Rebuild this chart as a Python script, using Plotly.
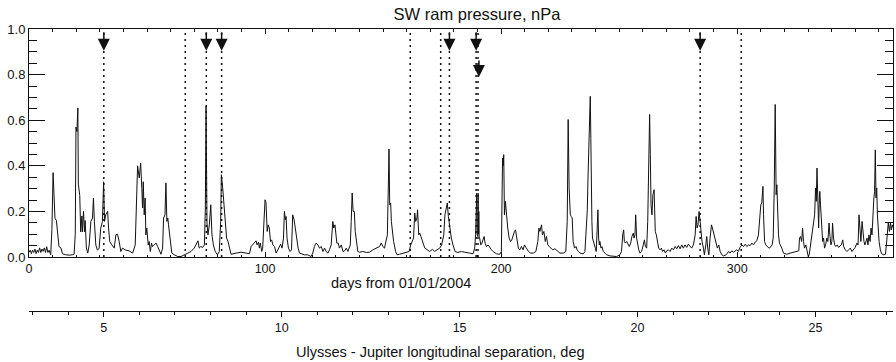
import plotly.graph_objects as go

# ---- data: SW ram pressure (nPa) vs days from 01/01/2004 ----
seg1_day = [0.0,0.5,1.0,1.5,2.0,2.5,3.0,3.5,4.0,4.5, 5.0,5.5,6.0,6.5,7.0,7.5,8.0,8.5,9.2,9.7,
            10.2,10.6,11.0,11.6,12.2,12.7,13.5,14.2,15.5,17.0, 18.5,19.1,19.6,19.9,20.3,20.7,20.9,21.2,21.5,21.9,
            22.4,22.6,23.1,23.5,23.8,24.3,24.9,25.5,26.2,26.9, 27.3,27.7,28.3,29.0,29.7,30.4,31.1,31.6,32.0,32.5,
            33.3,33.7,34.2,35.1,36.1,36.8,37.5,38.2,38.9,39.6, 41.0,42.4,43.9,45.0,45.5]
seg1_p = [0.02,0.03,0.015,0.03,0.02,0.035,0.015,0.03,0.02,0.04, 0.02,0.035,0.025,0.04,0.02,0.045,0.02,0.03,0.01,0.12,
          0.37,0.25,0.17,0.16,0.08,0.046,0.04,0.014,0.01,0.008, 0.01,0.012,0.1,0.57,0.55,0.654,0.32,0.3,0.27,0.11,
          0.18,0.11,0.2,0.11,0.16,0.04,0.017,0.053,0.156,0.171, 0.259,0.156,0.053,0.03,0.039,0.127,0.156,0.33,0.156,0.185,
          0.2,0.127,0.068,0.053,0.039,0.097,0.1,0.068,0.024,0.039, 0.03,0.027,0.017,0.053,0.2]

seg2_day = [46.0,46.7,47.3,47.8,48.1,48.4,48.8,49.2,49.5,49.9, 50.5,50.9,51.4,51.9,52.3,53.05,53.8,54.5,55.2,55.9,
            56.6,57.0,57.6,58.0,58.4,58.8,59.1,59.4,60.0,60.5, 61.5,63.0,64.4,65.8,67.2,68.6,70.0,71.0,71.6,72.1,
            72.8,73.6,74.3,74.7,75.0,75.2,75.4,75.8,76.4,77.0, 77.5,78.1,78.9,79.8,80.6,81.2,81.5,82.05,82.6,83.2,
            83.7,84.3,84.9,85.6,87.7,89.8,92.0,93.4]
seg2_p = [0.4,0.347,0.412,0.3,0.215,0.33,0.185,0.259,0.097,0.127, 0.053,0.068,0.024,0.061,0.046,0.053,0.061,0.046,0.024,0.012,
          0.039,0.171,0.185,0.325,0.156,0.171,0.141,0.112,0.053,0.017, 0.01,0.002,0.002,0.01,0.017,0.024,0.039,0.061,0.071,0.039,
          0.046,0.042,0.053,0.215,0.662,0.4,0.15,0.097,0.141,0.229, 0.097,0.053,0.024,0.0095,0.024,0.156,0.361,0.303,0.215,0.156,
          0.083,0.068,0.039,0.012,0.017,0.021,0.017,0.014]

seg3_day = [94.1,94.8,95.5,96.2,96.6,97.2,97.6,98.0,98.6,99.0, 99.4,100.0,100.4,100.9,101.3,101.8,102.3,102.8,103.3,104.0,
            104.7,105.4,106.1,106.6,107.2,107.8,108.2,108.6,108.9,109.3, 109.9,110.6,111.2,111.7,112.3,112.9,113.4,114.0,114.6,115.3,
            116.7,118.1,119.5,120.2,120.9,121.6,122.4,123.06,123.8,124.5, 125.2,125.9,126.6,127.3,128.0,128.7,129.1,129.6,130.0,130.4,
            131.0,131.5,132.3,133.0,133.7,134.4,135.1,136.1,136.5,136.9, 137.3,137.8,138.2,138.6]
seg3_p = [0.046,0.053,0.061,0.071,0.053,0.065,0.039,0.061,0.024,0.039, 0.127,0.251,0.237,0.112,0.141,0.127,0.068,0.075,0.053,0.046,
          0.017,0.0315,0.053,0.056,0.039,0.083,0.2,0.163,0.178,0.083, 0.039,0.024,0.0315,0.185,0.163,0.112,0.083,0.039,0.017,0.014,
          0.0095,0.0095,0.002,0.017,0.046,0.061,0.053,0.039,0.046,0.024, 0.039,0.024,0.017,0.0315,0.053,0.156,0.127,0.141,0.097,0.061,
          0.061,0.039,0.053,0.024,0.027,0.039,0.024,0.053,0.156,0.281, 0.2,0.2,0.112,0.068]

seg4_day = [139.3,140.0,141.4,142.9,144.3,145.7,147.1,148.5,149.2,149.9, 150.6,151.3,151.8,152.2,152.5,152.8,153.2,153.5,153.9,154.45,
            155.3,155.9,157.0,158.4,159.8,161.0,161.7,162.4,162.9,163.4, 163.8,164.35,164.6,165.1,165.5,166.05,166.6,167.2,167.7,168.6,
            169.7,170.9,171.85,172.8,174.0,174.8,175.7,176.2,176.8,177.2, 177.65,178.2,178.9,179.6,180.5,181.7,183.2,184.6,186.0]
seg4_p = [0.024,0.021,0.024,0.02,0.021,0.0315,0.039,0.046,0.061,0.046, 0.039,0.068,0.097,0.303,0.474,0.229,0.237,0.156,0.112,0.068,
          0.024,0.0095,0.012,0.017,0.02,0.024,0.053,0.075,0.083,0.193, 0.156,0.171,0.207,0.097,0.105,0.09,0.068,0.053,0.039,0.0315,
          0.024,0.034,0.024,0.0315,0.039,0.053,0.097,0.185,0.215,0.237, 0.178,0.127,0.083,0.053,0.024,0.02,0.024,0.021,0.02]

seg5_day = [186.7,188.1,188.8,189.2,189.35,189.5,189.65,189.8,189.95,190.1, 190.25,190.4,190.55,190.7,190.9,191.4,191.9,192.3,192.8,193.2,
            193.8,194.5,195.2,195.9,196.6,197.3,198.0,199.4,200.1,200.6, 200.85,201.1,201.4,201.8,202.25,202.8,203.4,203.95,204.5,205.1,
            205.65,206.1,206.5,206.9,207.3,207.9,208.6,209.3,209.9,210.5, 211.0,211.6,212.4,213.6,214.7,215.55,216.0,216.4,217.1,217.5,
            218.1,218.7,219.2,219.8,220.4,220.9,221.8,222.8,223.75,224.9, 226.3,227.4,228.0,228.4,228.8,229.3,229.7,230.1,230.5,231.1,
            231.7,232.2,232.8]
seg5_p = [0.017,0.014,0.039,0.1,0.28,0.12,0.28,0.1,0.27,0.09, 0.28,0.1,0.2,0.083,0.083,0.053,0.061,0.075,0.09,0.061,
          0.046,0.053,0.039,0.0315,0.024,0.017,0.014,0.012,0.024,0.434, 0.4,0.449,0.185,0.244,0.185,0.127,0.083,0.068,0.075,0.097,
          0.112,0.119,0.083,0.053,0.039,0.0315,0.046,0.0315,0.053,0.042, 0.0315,0.024,0.017,0.017,0.024,0.068,0.127,0.112,0.141,0.097,
          0.112,0.068,0.09,0.053,0.046,0.039,0.0315,0.036,0.027,0.017, 0.017,0.024,0.156,0.603,0.303,0.185,0.178,0.171,0.068,0.039,
          0.046,0.0315,0.024]

seg6_day = [233.4,234.8,235.5,235.9,236.5,236.8,237.0,237.3,237.75,238.0, 238.2,238.45,238.7,239.3,239.9,240.3,240.7,241.0,241.3,241.6,
            241.85,242.3,242.7,243.3,244.0,244.7,246.1,247.5,248.9,250.3, 251.0,251.5,251.9,252.2,252.6,253.2,253.9,254.3,254.9,255.4,
            256.0,256.3,256.7,257.0,257.4,257.8,258.3,258.8,259.5,260.2, 260.7,261.1,261.65,262.1,262.4,262.65,262.9,263.2,263.5,263.9,
            264.3,264.8,265.05,265.3,265.75,266.2,266.75,267.3,267.9,268.4, 269.0,269.6,270.1,270.85,271.55,272.3,273.0,273.7,274.4,275.1,
            275.8,276.5,277.2,277.9,278.6,279.3,280.0]
seg6_p = [0.017,0.014,0.024,0.097,0.207,0.347,0.449,0.603,0.705,0.52, 0.244,0.156,0.083,0.053,0.039,0.024,0.141,0.207,0.083,0.053,
          0.068,0.039,0.046,0.024,0.017,0.0095,0.005,0.002,0.002,0.0095, 0.024,0.097,0.119,0.068,0.061,0.068,0.053,0.046,0.061,0.09,
          0.105,0.083,0.097,0.185,0.083,0.053,0.0315,0.017,0.024,0.053, 0.075,0.046,0.039,0.156,0.361,0.522,0.625,0.449,0.229,0.185,
          0.273,0.295,0.215,0.112,0.097,0.061,0.039,0.0315,0.039,0.024, 0.0315,0.017,0.027,0.0315,0.024,0.039,0.0315,0.046,0.036,0.05,
          0.036,0.053,0.039,0.053,0.042,0.056,0.046]

seg7_day = [280.7,281.45,282.2,282.6,283.0,283.4,283.85,284.3,284.7,285.1, 285.7,286.1,286.7,287.1,287.5,288.0,288.5,289.1,289.5,289.9,
            290.5,291.1,291.6,292.2,292.8,293.5,294.2,295.3,295.9,296.4, 297.0,297.7,298.4,299.1,299.8,300.5,301.2,302.0,302.7,303.4,
            304.1,304.8,305.5,306.2,306.9,307.6,308.3,309.0,309.5,310.0, 310.4,310.9,311.15,311.6,312.1,312.6,313.1,313.7,314.3,314.8,
            315.25,315.7,316.1,316.4,316.5,316.8,317.1,317.5,317.9,318.4, 318.9,319.6,320.35,321.05]
seg7_p = [0.039,0.053,0.097,0.178,0.127,0.141,0.2,0.156,0.097,0.068, 0.039,0.0095,0.053,0.09,0.039,0.0095,0.083,0.141,0.127,0.112,
          0.083,0.068,0.039,0.053,0.024,0.0095,0.005,0.0095,0.017,0.024, 0.017,0.027,0.021,0.027,0.0315,0.024,0.042,0.053,0.046,0.056,
          0.046,0.053,0.05,0.061,0.053,0.065,0.071,0.097,0.163,0.229, 0.237,0.31,0.185,0.068,0.053,0.046,0.042,0.039,0.046,0.053,
          0.083,0.303,0.669,0.449,0.273,0.317,0.185,0.097,0.061,0.053, 0.039,0.017,0.014,0.012]

seg8_day = [322.45,323.9,325.3,326.1,326.4,326.8,327.3,327.7,328.1,328.5, 329.1,329.7,330.1,330.5,330.9,331.5,331.9,332.3,332.8,333.2,
            333.5,333.8,334.05,334.5,334.8,335.0,335.3,335.75,336.2,336.6, 337.0,337.45,338.0,338.4,338.9,339.3,339.7,340.1,340.4,340.8,
            341.3,341.8,342.4,342.95,343.5,344.1,344.7,345.1,345.8,346.5, 347.2,347.9,348.6,349.3,350.0,350.7,351.2,351.6,352.0,352.4,
            352.9,353.3,353.7,354.1,354.6,355.0,355.4,355.8,356.3,356.7, 357.1,357.5,357.9,358.2,358.5,358.8,359.1,359.4,359.65,360.1,
            360.65,361.2,362.1,362.8,363.2,363.6,364.0,364.5,364.9,365.3, 365.7,366.0]
seg8_p = [0.017,0.02,0.024,0.027,0.083,0.09,0.068,0.127,0.068,0.039, 0.053,0.024,0.002,0.0095,0.039,0.075,0.112,0.156,0.185,0.303,
          0.244,0.39,0.288,0.127,0.259,0.288,0.229,0.156,0.068,0.083, 0.039,0.053,0.083,0.068,0.149,0.09,0.053,0.068,0.149,0.083,
          0.053,0.046,0.053,0.042,0.046,0.053,0.075,0.046,0.0315,0.024, 0.0315,0.039,0.024,0.0315,0.042,0.061,0.053,0.185,0.097,0.068,
          0.156,0.097,0.068,0.053,0.068,0.083,0.053,0.097,0.068,0.127, 0.097,0.2,0.259,0.288,0.47,0.259,0.303,0.185,0.127,0.068,
          0.0315,0.014,0.0095,0.012,0.053,0.127,0.149,0.112,0.149,0.119, 0.141,0.13]

# event markers (days)
dotted_days = [31.7, 66.2, 75.1, 81.6, 161.5, 174.4, 178.1, 189.4, 190.2, 284.3, 301.7]
arrow_days = [31.7, 75.1, 81.6, 178.1, 189.4, 284.3]
lower_arrow_days = [190.6]

# axis ticks
day_ticks = [0, 100, 200, 300]
p_ticks = [0.0, 0.2, 0.4, 0.6, 0.8, 1.0]
sep_ticks = [5, 10, 15, 20, 25]

days, pressure = [], []
for d, p in [(seg1_day, seg1_p), (seg2_day, seg2_p), (seg3_day, seg3_p), (seg4_day, seg4_p),
             (seg5_day, seg5_p), (seg6_day, seg6_p), (seg7_day, seg7_p), (seg8_day, seg8_p)]:
    n = min(len(d), len(p))
    days += d[:n]
    pressure += p[:n]

FONT = "Liberation Sans, Arial, Helvetica, sans-serif"
INK = "#111111"

W, H = 896, 362
ML, MR, MT, MB = 29, 3, 29, 0
plot_h = H - MT - MB
plot_w = W - ML - MR
y_bottom_px = 257
ydom0 = (H - y_bottom_px) / plot_h
axis2_px = 311
axis2_pos = (H - axis2_px) / plot_h

fig = go.Figure()
fig.add_trace(go.Scatter(x=days, y=pressure, mode="lines",
                         line=dict(color=INK, width=1), showlegend=False, hoverinfo="skip"))
# dummy trace to carry the second (longitudinal separation) axis
fig.add_trace(go.Scatter(x=[sep_ticks[0], sep_ticks[-1]], y=[None, None], xaxis="x2", yaxis="y",
                         mode="lines", showlegend=False, hoverinfo="skip"))

for d in dotted_days:
    fig.add_shape(type="line", xref="x", yref="y domain", x0=d, x1=d, y0=0, y1=1,
                  line=dict(color=INK, width=1.5, dash="2px,4px"))

for d in arrow_days:
    fig.add_annotation(x=d, y=0.905, xref="x", yref="y", text="", showarrow=True,
                       ax=0, ay=-20, arrowhead=2, arrowsize=1.6, arrowwidth=1.5, arrowcolor=INK)
for d in lower_arrow_days:
    fig.add_annotation(x=d, y=0.79, xref="x", yref="y", text="", showarrow=True,
                       ax=0, ay=-18, arrowhead=2, arrowsize=1.6, arrowwidth=1.5, arrowcolor=INK)

fig.add_annotation(text="days from 01/01/2004", x=(401 - ML) / plot_w, y=(H - 283) / plot_h,
                   xref="paper", yref="paper", showarrow=False, xanchor="center", yanchor="middle",
                   font=dict(family=FONT, size=14.5, color=INK))
fig.add_annotation(text="Ulysses - Jupiter longitudinal separation, deg",
                   x=(440 - ML) / plot_w, y=(H - 352) / plot_h,
                   xref="paper", yref="paper", showarrow=False, xanchor="center", yanchor="middle",
                   font=dict(family=FONT, size=14.5, color=INK))

fig.update_layout(
    width=W, height=H,
    margin=dict(l=ML, r=MR, t=MT, b=MB, autoexpand=False),
    paper_bgcolor="white", plot_bgcolor="white",
    font=dict(family=FONT, size=12, color=INK),
    title=dict(text="SW ram pressure, nPa", x=477 / W, xanchor="center", xref="container",
               y=1 - 14 / H, yanchor="middle", yref="container",
               font=dict(family=FONT, size=16.5, color=INK)),
    xaxis=dict(range=[0, 366], domain=[0, 1], anchor="y", automargin=False,
               showline=True, linecolor=INK, linewidth=1, mirror="ticks",
               ticks="inside", ticklen=5, tickwidth=1, tickcolor=INK,
               tickvals=day_ticks, ticktext=[str(v) for v in day_ticks],
               minor=dict(ticks="inside", dtick=10, tick0=0, ticklen=2.5, tickcolor=INK),
               showgrid=False, zeroline=False, tickfont=dict(size=12.5)),
    yaxis=dict(range=[0, 1.0], domain=[ydom0, 1], anchor="x", automargin=False,
               showline=True, linecolor=INK, linewidth=1, mirror="ticks",
               ticks="inside", ticklen=16, tickwidth=1, tickcolor=INK,
               tickvals=p_ticks, ticktext=[f"{v:.1f}" for v in p_ticks],
               minor=dict(ticks="inside", dtick=0.05, tick0=0, ticklen=8, tickcolor=INK),
               showgrid=False, zeroline=False, tickfont=dict(size=13)),
    xaxis2=dict(range=[2.9, 27.18], overlaying="x", anchor="free", position=axis2_pos, side="bottom",
                automargin=False,
                showline=True, linecolor=INK, linewidth=1,
                ticks="outside", ticklen=5, tickwidth=1, tickcolor=INK,
                tickvals=sep_ticks, ticktext=[str(v) for v in sep_ticks],
                minor=dict(ticks="outside", dtick=1, tick0=0, ticklen=2.5, tickcolor=INK),
                showgrid=False, zeroline=False, tickfont=dict(size=12.5)),
)

fig.write_html("out.html", config={"displayModeBar": False},
               post_script="document.body.style.margin='0px';document.body.style.overflow='hidden';")
